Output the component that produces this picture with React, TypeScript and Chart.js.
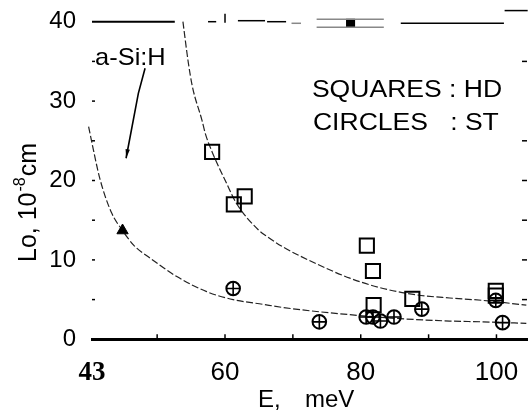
import React, { useEffect, useRef } from 'react';
import { Chart, registerables } from 'chart.js';

Chart.register(...registerables);

// ---------------- data ----------------
// Squares : HD
const hdEnergy = [58.1, 62.9, 61.3, 80.9, 81.8, 81.9, 87.6, 99.9, 99.9];
const hdLo = [23.6, 18.0, 17.0, 11.8, 8.6, 4.3, 5.1, 6.1, 5.5];
// Circles : ST
const stEnergy = [61.2, 73.9, 80.8, 81.8, 82.9, 84.9, 89.0, 99.9, 100.9];
const stLo = [6.4, 2.2, 2.8, 2.8, 2.3, 2.8, 3.8, 4.9, 2.1];
// a-Si:H triangle
const aSiEnergy = [44.9];
const aSiLo = [13.7];
// filled square on the top frame
const topEnergy = [78.5];
const topLo = [39.8];
// fitted curve through the squares
const hdFitEnergy = [53.8, 54.6, 55.2, 56.6, 57.1, 58.1, 60.25, 61.7, 64.9, 66.1, 68.6, 73.5, 78.4, 83.3, 88.2, 93.1, 98.0, 104.4];
const hdFitLo = [40.0, 34.8, 31.8, 27.6, 25.9, 23.6, 19.6, 17.1, 13.8, 13.0, 11.6, 9.5, 7.7, 6.4, 5.6, 5.2, 4.9, 4.3];
// fitted curve through the circles / a-Si:H
const stFitEnergy = [39.9, 40.4, 41.6, 43.3, 44.9, 46.6, 49.0, 52.9, 57.3, 61.2, 65.6, 68.6, 73.5, 78.4, 85.8, 93.1, 98.0, 104.4];
const stFitLo = [26.8, 24.7, 20.1, 15.9, 13.7, 11.8, 10.2, 7.9, 6.0, 5.0, 4.4, 4.0, 3.5, 3.1, 2.6, 2.3, 2.2, 2.0];

// axes
const X_MIN = 40.4;
const X_MAX = 104.5;
const Y_MIN = 0;
const Y_MAX = 40;
const xTickValues = [40.4, 60, 80, 100];
const xTickLabels = ['43', '60', '80', '100'];
const yTickValues = [0, 10, 20, 30, 40];
const xMinorTicks = [50, 60, 70, 80, 90, 100];
const yMinorTicks = [5, 10, 15, 20, 25, 30, 35];
const rightTicks = [5, 10, 15, 20, 25, 35];

// texts
const legendLine1 = 'SQUARES : HD';
const legendLine2 = 'CIRCLES   : ST';
const arrowLabel = 'a-Si:H';
const xTitleMain = 'E,';
const xTitleUnit = 'meV';
const yTitleMain = 'Lo, 10';
const yTitleSup = '-8';
const yTitleTail = 'cm';

const SANS = '"Liberation Sans", Arial, sans-serif';
const SERIF = '"Liberation Serif", "Times New Roman", serif';
const CLEAR = 'rgba(0,0,0,0)';

const pts = (xs: number[], ys: number[]) => xs.map((x, i) => ({ x, y: ys[i] }));

const decor = {
  id: 'decor',
  afterDraw(chart: any) {
    const { ctx, chartArea: a } = chart;
    const xs = chart.scales.x;
    const ys = chart.scales.y;
    const X = (v: number) => xs.getPixelForValue(v);
    const Y = (v: number) => ys.getPixelForValue(v);
    const line = (x1: number, y1: number, x2: number, y2: number) => {
      ctx.beginPath();
      ctx.moveTo(x1, y1);
      ctx.lineTo(x2, y2);
      ctx.stroke();
    };
    ctx.save();
    ctx.strokeStyle = '#000';
    ctx.fillStyle = '#000';

    // inner ticks on left axis
    ctx.lineWidth = 1.5;
    yMinorTicks.forEach((v) => line(a.left, Y(v), a.left + 3, Y(v)));
    // ticks on right side
    rightTicks.forEach((v) => line(a.right - 5, Y(v), a.right, Y(v)));
    // inner ticks on bottom axis
    xMinorTicks.forEach((v) => line(X(v), a.bottom, X(v), a.bottom - 5));

    // broken top frame
    ctx.lineWidth = 2;
    line(X(40.4), Y(40), X(52.6), Y(40));
    ctx.lineWidth = 1.5;
    line(X(57.5), Y(40), X(58.7), Y(40));
    line(X(60), Y(40) - 8, X(60), Y(40) + 1);
    line(X(61.9), Y(40) - 1, X(65.9), Y(40) - 1);
    line(X(66.2), Y(40), X(69.0), Y(40));
    line(X(85.9), Y(39.8), X(101.1), Y(39.8));
    line(X(101.2), Y(41.4), X(104.6), Y(41.4));
    ctx.strokeStyle = '#888';
    line(X(69.8), Y(39.8), X(71.2), Y(39.8));
    line(X(73.5), Y(40.3), X(83.4), Y(40.3));
    line(X(73.5), Y(39.3), X(83.4), Y(39.3));
    ctx.strokeStyle = '#000';

    // a-Si:H label + arrow
    ctx.textBaseline = 'alphabetic';
    ctx.textAlign = 'left';
    ctx.save();
    ctx.font = `24px ${SANS}`;
    ctx.translate(X(40.85), Y(34.55));
    ctx.scale(1.06, 1);
    ctx.fillText(arrowLabel, 0, 0);
    ctx.restore();
    ctx.lineWidth = 1.6;
    ctx.beginPath();
    ctx.moveTo(X(48.22), Y(34.13));
    ctx.lineTo(X(47.23), Y(30.98));
    ctx.lineTo(X(45.42), Y(22.8));
    ctx.stroke();
    {
      const tx = X(45.42), ty = Y(22.8);
      const ang = Math.atan2(ty - Y(30.98), tx - X(47.23));
      ctx.beginPath();
      ctx.moveTo(tx, ty);
      ctx.lineTo(tx - 9 * Math.cos(ang) + 2.2 * Math.sin(ang), ty - 9 * Math.sin(ang) - 2.2 * Math.cos(ang));
      ctx.lineTo(tx - 9 * Math.cos(ang) - 2.2 * Math.sin(ang), ty - 9 * Math.sin(ang) + 2.2 * Math.cos(ang));
      ctx.closePath();
      ctx.fill();
    }

    // legend text
    ctx.save();
    ctx.font = `23.5px ${SANS}`;
    ctx.translate(X(72.8), Y(30.5));
    ctx.scale(1.13, 1);
    ctx.fillText(legendLine1, 0, 0);
    ctx.restore();
    ctx.save();
    ctx.font = `23.5px ${SANS}`;
    ctx.translate(X(72.95), Y(26.35));
    ctx.scale(1.13, 1);
    ctx.fillText(legendLine2, 0, 0);
    ctx.restore();

    // x title
    ctx.font = `24px ${SANS}`;
    ctx.fillText(xTitleMain, 258, 407);
    ctx.fillText(xTitleUnit, 305, 407);

    // y title (rotated)
    ctx.save();
    ctx.translate(36, 262);
    ctx.rotate(-Math.PI / 2);
    ctx.font = `25px ${SANS}`;
    ctx.fillText(yTitleMain, 0, 0);
    let w = ctx.measureText(yTitleMain).width + 1;
    ctx.font = `16px ${SANS}`;
    ctx.fillText(yTitleSup, w, -11);
    w += ctx.measureText(yTitleSup).width + 1;
    ctx.font = `25px ${SANS}`;
    ctx.fillText(yTitleTail, w, 0);
    ctx.restore();

    ctx.restore();
  },
};

export default function App() {
  const ref = useRef<HTMLCanvasElement | null>(null);

  useEffect(() => {
    const canvas = ref.current;
    if (!canvas) return;
    const curve = {
      showLine: true,
      pointRadius: 0,
      borderColor: '#222',
      borderWidth: 1.2,
      borderDash: [7, 2.5],
      cubicInterpolationMode: 'monotone',
      fill: false,
      clip: false,
    };
    const chart = new Chart(canvas, {
      type: 'scatter',
      data: {
        datasets: [
          {
            label: 'HD',
            data: pts(hdEnergy, hdLo),
            pointStyle: 'rect',
            pointRadius: 10,
            borderColor: '#000',
            borderWidth: 2,
            backgroundColor: CLEAR,
            clip: false,
          },
          {
            label: 'ST',
            data: pts(stEnergy, stLo),
            pointStyle: 'circle',
            pointRadius: 6.8,
            borderColor: '#000',
            borderWidth: 2,
            backgroundColor: CLEAR,
            clip: false,
          },
          {
            label: 'ST cross',
            data: pts(stEnergy, stLo),
            pointStyle: 'cross',
            pointRadius: 6.8,
            borderColor: '#000',
            borderWidth: 1.6,
            clip: false,
          },
          {
            label: 'a-Si:H',
            data: pts(aSiEnergy, aSiLo),
            pointStyle: 'triangle',
            pointRadius: 6.5,
            borderColor: '#000',
            borderWidth: 1,
            backgroundColor: '#000',
            clip: false,
          },
          {
            label: 'top',
            data: pts(topEnergy, topLo),
            pointStyle: 'rect',
            pointRadius: 6.4,
            borderWidth: 0,
            backgroundColor: '#000',
            clip: false,
          },
          { label: 'HD fit', data: pts(hdFitEnergy, hdFitLo), ...curve },
          { label: 'ST fit', data: pts(stFitEnergy, stFitLo), ...curve },
        ] as any,
      },
      options: {
        animation: false,
        responsive: false,
        events: [],
        layout: { autoPadding: false, padding: { top: 21.7, right: 1, bottom: 0, left: 0 } },
        plugins: { legend: { display: false }, tooltip: { enabled: false } },
        scales: {
          x: {
            type: 'linear',
            min: X_MIN,
            max: X_MAX,
            afterBuildTicks: (s: any) => {
              s.ticks = xTickValues.map((v) => ({ value: v }));
            },
            afterFit: (s: any) => {
              s.height = 75.7;
            },
            grid: { display: true, drawOnChartArea: false, drawTicks: true, tickLength: 17.6, color: CLEAR },
            border: { display: true, color: '#000', width: 3 },
            ticks: {
              autoSkip: false,
              maxRotation: 0,
              padding: 0,
              color: '#000',
              callback: (_v: any, i: number) => xTickLabels[i],
              font: (c: any) =>
                c.index === 0
                  ? { family: SERIF, size: 27, weight: 'bold' }
                  : { family: SANS, size: 26 },
            },
          },
          y: {
            type: 'linear',
            min: Y_MIN,
            max: Y_MAX,
            afterBuildTicks: (s: any) => {
              s.ticks = yTickValues.map((v) => ({ value: v }));
            },
            afterFit: (s: any) => {
              s.width = 92;
            },
            grid: { display: true, drawOnChartArea: false, drawTicks: true, tickLength: 16, color: CLEAR },
            border: { display: false },
            ticks: {
              padding: 0,
              color: '#000',
              font: { family: SANS, size: 24 },
            },
          },
        },
      } as any,
      plugins: [decor],
    });
    return () => chart.destroy();
  }, []);

  return (
    <div style={{ position: 'absolute', left: 0, top: 0, width: 528, height: 415, background: '#fff' }}>
      <canvas ref={ref} width={528} height={415} style={{ display: 'block' }} />
    </div>
  );
}
